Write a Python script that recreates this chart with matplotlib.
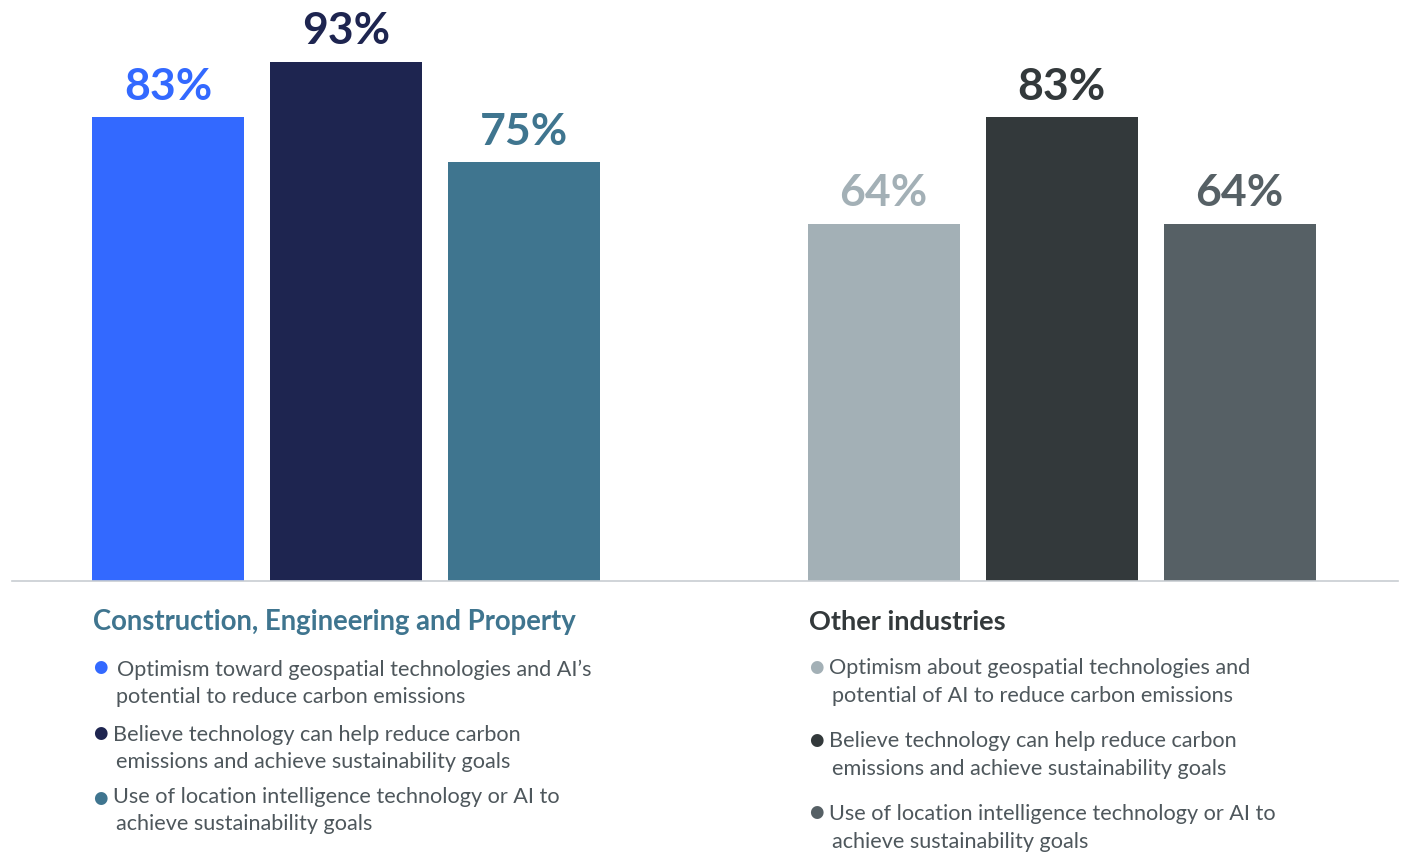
import matplotlib.pyplot as plt

plt.rcParams['font.family'] = ['Lato', 'DejaVu Sans']

groups = ["Construction, Engineering and Property", "Other industries"]
cep_values = [83, 93, 75]
other_values = [64, 83, 64]
cep_colors = ["#3369FF", "#1E2550", "#3F758F"]
other_colors = ["#A3B0B6", "#33393B", "#566065"]
group_title_colors = ["#3F758F", "#33393B"]

cep_items = [
    "Optimism toward geospatial technologies and AI\u2019s\npotential to reduce carbon emissions",
    "Believe technology can help reduce carbon\nemissions and achieve sustainability goals",
    "Use of location intelligence technology or AI to\nachieve sustainability goals",
]
other_items = [
    "Optimism about geospatial technologies and\npotential of AI to reduce carbon emissions",
    "Believe technology can help reduce carbon\nemissions and achieve sustainability goals",
    "Use of location intelligence technology or AI to\nachieve sustainability goals",
]

W, H = 1404, 852
fig = plt.figure(figsize=(W / 100, H / 100), dpi=100)
ax = fig.add_axes([12 / W, 1 - 581 / H, 1386 / W, 581 / H])

bar_w = 152 / 178
cep_x = [0, 1, 2]
other_x = [4.02, 5.02, 6.02]

for xs, vals, cols in [(cep_x, cep_values, cep_colors), (other_x, other_values, other_colors)]:
    bars = ax.bar(xs, vals, width=bar_w, color=cols)
    for b, v, c in zip(bars, vals, cols):
        ax.annotate(f"{v}%", (b.get_x() + b.get_width() / 2, v),
                    xytext=(0, 12.5), textcoords="offset points",
                    ha="center", va="baseline", fontsize=32,
                    fontweight="bold", color=c)

ax.set_xlim(-0.876, 6.91)
ax.set_ylim(0, 581 / 5.585)
for s in ["top", "right", "left"]:
    ax.spines[s].set_visible(False)
ax.spines["bottom"].set_color("#C8CDD2")
ax.spines["bottom"].set_linewidth(1.2)
ax.set_xticks([])
ax.set_yticks([])


def px(x, y):
    return x / W, 1 - y / H


text_color = "#4E575C"
body_size = 15.6

# group titles below the baseline
fig.text(*px(93, 630), groups[0], fontsize=19.8, fontweight="bold",
         color=group_title_colors[0], va="baseline")
fig.text(*px(809, 630), groups[1], fontsize=19.5, fontweight="bold",
         color=group_title_colors[1], va="baseline")

# bullet lists
cep_layout = [(117, 676, 667), (113, 741, 733), (113, 803, 798)]
for (tx, ty, by), label, c in zip(cep_layout, cep_items, cep_colors):
    fig.text(*px(100, by), "\u25CF", fontsize=12, color=c, ha="center", va="center",
             family="DejaVu Sans")
    first, second = label.split("\n")
    fig.text(*px(tx, ty), first, fontsize=body_size, color=text_color, va="baseline")
    fig.text(*px(116, ty + 27), second, fontsize=body_size, color=text_color, va="baseline")

other_layout = [(829, 674, 667), (829, 747, 740), (829, 820, 812)]
for (tx, ty, by), label, c in zip(other_layout, other_items, other_colors):
    fig.text(*px(816, by), "\u25CF", fontsize=12, color=c, ha="center", va="center",
             family="DejaVu Sans")
    first, second = label.split("\n")
    fig.text(*px(tx, ty), first, fontsize=body_size, color=text_color, va="baseline")
    fig.text(*px(832, ty + 28), second, fontsize=body_size, color=text_color, va="baseline")

fig.savefig("out.png", dpi=100)
